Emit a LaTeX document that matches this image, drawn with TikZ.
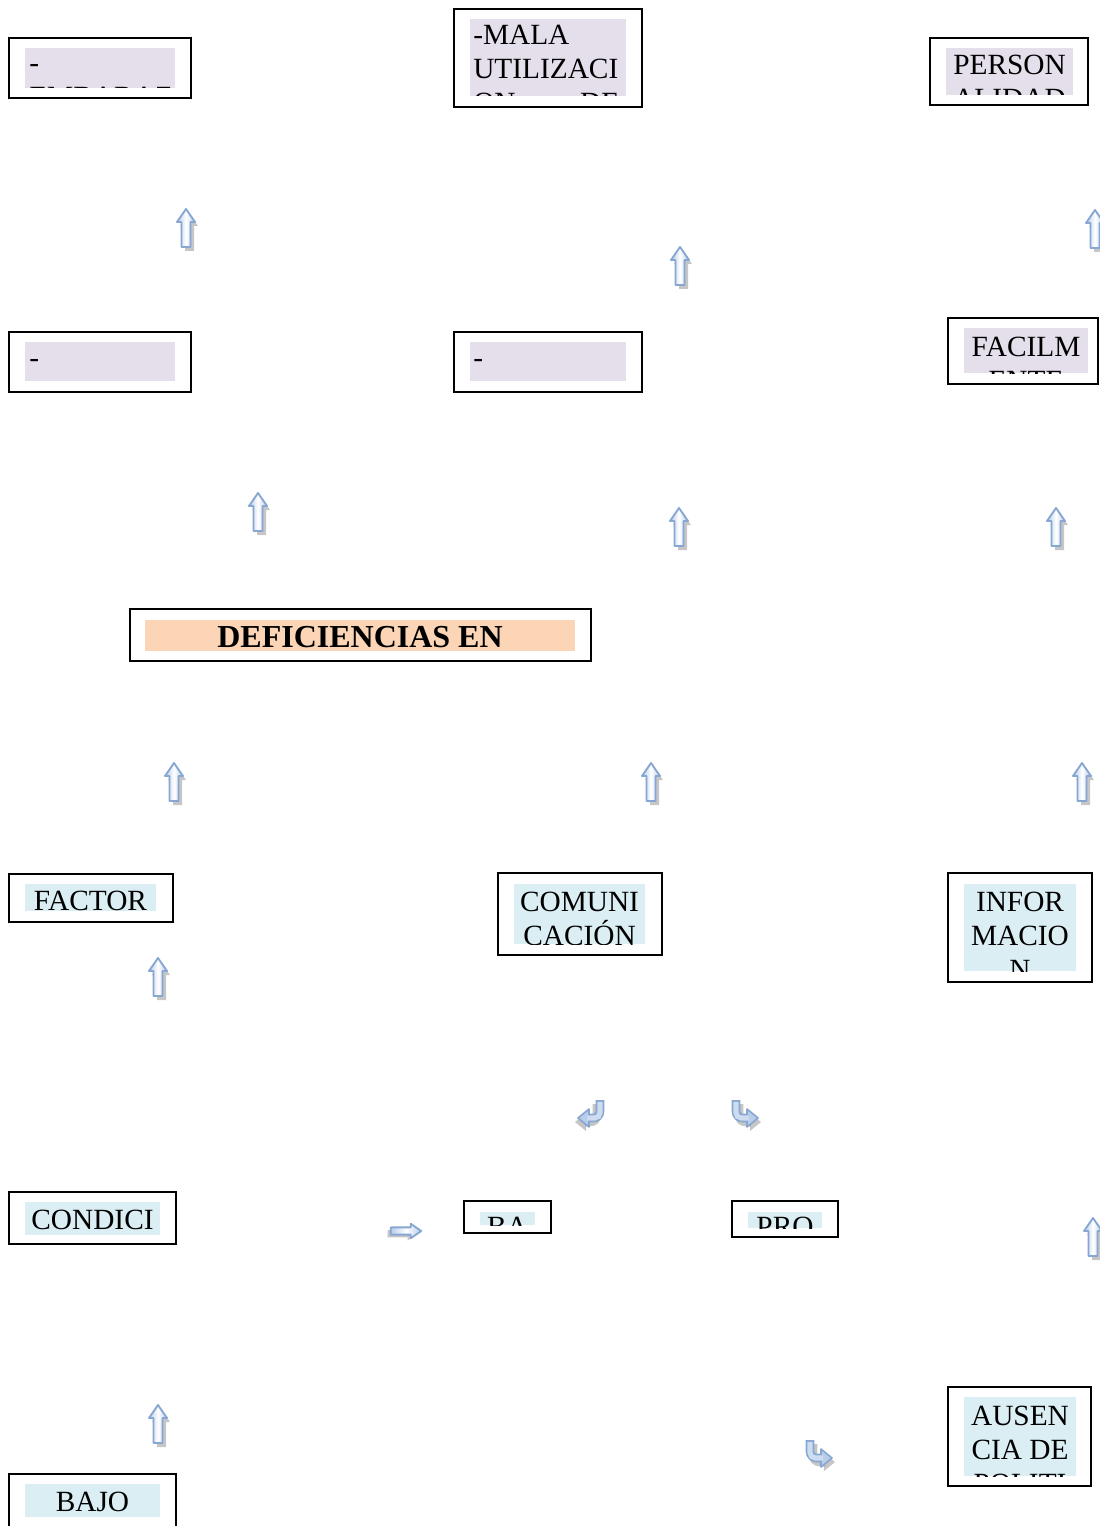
\documentclass[tikz,border=0pt]{standalone}
\usepackage{fontspec}
\setmainfont{Liberation Serif}
\usepackage{tikz}

\definecolor{lila}{RGB}{229,223,236}
\definecolor{celeste}{RGB}{218,238,243}
\definecolor{melon}{RGB}{251,213,181}
\definecolor{azulo}{RGB}{135,167,210}
\definecolor{azulc}{RGB}{184,205,234}

\begin{document}
\begin{tikzpicture}[x=0.75pt,y=-0.75pt,
    marco/.style={draw=black,line width=1.6pt},
    texto/.style={inner sep=0pt,font=\fontsize{22}{25.5}\selectfont},
    sombra/.style={fill=black!50,opacity=0.45},
    flecha/.pic={
      \fill[sombra] (3,-15) -- (12,-2) -- (8,-2) -- (8,23) -- (-1,23) -- (-1,-2) -- (-6,-2) -- cycle;
      \draw[draw=azulo,line width=1.4pt,line join=round,left color=azulc,right color=azulc,middle color=white]
        (0,-19) -- (9,-6) -- (4.5,-6) -- (4.5,19) -- (-4.5,19) -- (-4.5,-6) -- (-9,-6) -- cycle;
    },
    codo/.pic={
      \draw[black!50,opacity=0.45,line width=6.5pt,rounded corners=5pt] (3,4) -- (3,22) -- (15,22);
      \fill[sombra] (14,13) -- (25,22) -- (14,31) -- cycle;
      \draw[azulo,line width=6.5pt,rounded corners=5pt] (0,0) -- (0,18) -- (12,18);
      \draw[draw=azulo,line width=1.2pt,line join=round,fill=azulc] (11,9) -- (22,18) -- (11,27) -- cycle;
      \draw[azulc!70!white,line width=3.8pt,rounded corners=4pt] (0,1.8) -- (0,18) -- (13,18);
    }]
\useasboundingbox (0,0) rectangle (1099,1526);

% fila superior
\draw[marco] (9,38) rectangle (191,98);
\begin{scope}
  \clip (25,48) rectangle (175,88);
  \fill[lila] (25,48) rectangle (175,88);
  \node[texto,align=left,anchor=base west] (embarazo) at (29,107) {-\\EMBARAZOS};
\end{scope}

\draw[marco] (454,9) rectangle (642,107);
\begin{scope}
  \clip (470,19) rectangle (626,96);
  \fill[lila] (470,19) rectangle (626,96);
  \node[texto,align=left,anchor=base west] (metodos) at (473,113) {-MALA\\UTILIZACI\\\makebox[109.5pt]{ON\hfill DE}};
\end{scope}

\draw[marco] (930,38) rectangle (1088,105);
\begin{scope}
  \clip (946,48) rectangle (1073,95);
  \fill[lila] (946,48) rectangle (1073,95);
  \node[texto,align=center,anchor=base] (personalidad) at (1009.5,109) {PERSON\\ALIDAD};
\end{scope}

\pic at (186,228) {flecha};
\pic at (680,266) {flecha};
\pic at (1095,229) {flecha};

% segunda fila
\draw[marco] (9,332) rectangle (191,392);
\begin{scope}
  \clip (25,342) rectangle (175,381);
  \fill[lila] (25,342) rectangle (175,381);
  \node[texto,anchor=base west] (guion1) at (29,367) {-};
\end{scope}

\draw[marco] (454,332) rectangle (642,392);
\begin{scope}
  \clip (470,342) rectangle (626,381);
  \fill[lila] (470,342) rectangle (626,381);
  \node[texto,anchor=base west] (guion2) at (473,367) {-};
\end{scope}

\draw[marco] (948,318) rectangle (1098,384);
\begin{scope}
  \clip (964,328) rectangle (1088,373);
  \fill[lila] (964,328) rectangle (1088,373);
  \node[texto,align=center,anchor=base] (facilmente) at (1026,390) {FACILM\\ENTE};
\end{scope}

\pic at (258,512) {flecha};
\pic at (679,527) {flecha};
\pic at (1056,527) {flecha};

% problema central
\draw[marco] (130,609) rectangle (591,661);
\fill[melon] (145,620) rectangle (575,651);
\node[inner sep=0pt,font=\fontsize{24}{28}\selectfont\bfseries,anchor=base] (deficiencias) at (360,647) {DEFICIENCIAS EN};

\pic at (174,782) {flecha};
\pic at (651,782) {flecha};
\pic at (1082,782) {flecha};

% causas
\draw[marco] (9,874) rectangle (173,922);
\begin{scope}
  \clip (25,884) rectangle (156,911);
  \fill[celeste] (25,884) rectangle (156,911);
  \node[texto,anchor=base] (factor) at (90.5,910) {FACTOR};
\end{scope}

\draw[marco] (498,873) rectangle (662,955);
\begin{scope}
  \clip (514,884) rectangle (645,944);
  \fill[celeste] (514,884) rectangle (645,944);
  \node[texto,align=center,anchor=base] (comunicacion) at (579.5,945) {COMUNI\\CACIÓN};
\end{scope}

\draw[marco] (948,873) rectangle (1092,982);
\begin{scope}
  \clip (964,884) rectangle (1076,971);
  \fill[celeste] (964,884) rectangle (1076,971);
  \node[texto,align=center,anchor=base] (informacion) at (1020,979) {INFOR\\MACIO\\N};
\end{scope}

\pic at (158,977) {flecha};
\pic[xscale=-1] at (600,1100) {codo};
\pic at (736,1100) {codo};

\draw[marco] (9,1192) rectangle (176,1244);
\begin{scope}
  \clip (25,1202) rectangle (160,1235);
  \fill[celeste] (25,1202) rectangle (160,1235);
  \node[texto,anchor=base] (condicion) at (92.5,1229) {CONDICI};
\end{scope}

\pic[rotate=-90,scale=0.8] at (406,1231) {flecha};

\draw[marco] (464,1201) rectangle (551,1233);
\begin{scope}
  \clip (480,1212) rectangle (535,1225);
  \fill[celeste] (480,1212) rectangle (535,1225);
  \node[texto,anchor=base] (ba) at (507.5,1236) {BA};
\end{scope}

\draw[marco] (732,1201) rectangle (838,1237);
\begin{scope}
  \clip (748,1212) rectangle (822,1228);
  \fill[celeste] (748,1212) rectangle (822,1228);
  \node[texto,anchor=base] (pro) at (785,1236) {PRO};
\end{scope}

\pic at (1093,1237) {flecha};
\pic at (158,1424) {flecha};
\pic at (810,1440) {codo};

\draw[marco] (948,1387) rectangle (1091,1486);
\begin{scope}
  \clip (964,1397) rectangle (1076,1476);
  \fill[celeste] (964,1397) rectangle (1076,1476);
  \node[texto,align=center,anchor=base] (ausencia) at (1020,1493) {AUSEN\\CIA DE\\POLITI};
\end{scope}

\draw[marco] (9,1474) rectangle (176,1540);
\begin{scope}
  \clip (25,1484) rectangle (160,1517);
  \fill[celeste] (25,1484) rectangle (160,1517);
  \node[texto,anchor=base] (bajo) at (92.5,1511) {BAJO};
\end{scope}
\end{tikzpicture}
\end{document}
